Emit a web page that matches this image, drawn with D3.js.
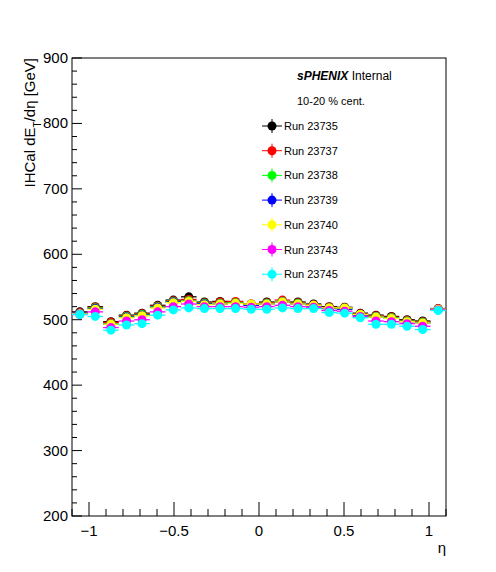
<!DOCTYPE html>
<html><head><meta charset="utf-8">
<script src="https://cdn.jsdelivr.net/npm/d3@7"></script>
<style>body{margin:0;background:#fff}text{font-family:"Liberation Sans",Arial,sans-serif}</style>
</head><body><div id="chart"></div>
<script>
// eta bin centres (24 bins over -1.1..1.1)
const etaCenters = [-1.054,-0.963,-0.871,-0.779,-0.688,-0.596,-0.504,-0.413,-0.321,-0.229,-0.138,-0.046,
  0.046,0.138,0.229,0.321,0.413,0.504,0.596,0.688,0.779,0.871,0.963,1.054];
const runs = ["Run 23735","Run 23737","Run 23738","Run 23739","Run 23740","Run 23743","Run 23745"];
const runColors = ["#000000","#ff0000","#00ff00","#0000ff","#ffff00","#ff00ff","#00ffff"];
const run23735 = [512,520,497,507,510,522,530,535,527,528,526,524,527,527,527,524,520,519,510,507,505,500,498,517];
const run23737 = [511,519,496,506,509,521,529,531,526,527,528,524,526,530,526,523,519,518,509,506,504,499,497,517];
const run23738 = [510,518,494,505,508,520,528,529,525,525,526,523,525,528,525,522,518,517,508,505,503,498,496,516];
const run23739 = [510,517,493,504,507,519,527,528,524,524,525,522,524,527,524,521,517,516,507,504,502,497,495,516];
const run23740 = [509,516,493,503,506,518,526,528,523,524,525,524,524,527,524,522,518,518,508,504,502,497,495,516];
const run23743 = [508,512,488,498,500,512,520,524,520,520,520,519,520,522,520,519,514,513,505,498,497,494,490,515];
const run23745 = [508,505,484,492,494,507,515,518,517,517,517,516,516,518,517,517,511,510,503,493,493,490,485,514];
const runValues = [run23735,run23737,run23738,run23739,run23740,run23743,run23745];
const yTicks = [200,300,400,500,600,700,800,900];
const xTicks = [-1,-0.5,0,0.5,1];

const W = 496, H = 572;
const m = {left: 72, right: 50, top: 58, bottom: 56};
const svg = d3.select("#chart").append("svg").attr("width", W).attr("height", H);
const x = d3.scaleLinear().domain([-1.1, 1.1]).range([m.left, W - m.right]);
const y = d3.scaleLinear().domain([200, 900]).range([H - m.bottom, m.top]);

// frame
svg.append("rect").attr("x", m.left).attr("y", m.top)
  .attr("width", x(1.1) - m.left).attr("height", y(200) - m.top)
  .attr("fill", "none").attr("stroke", "#000");

// y axis ticks
svg.append("g").selectAll("line").data(d3.range(200, 901, 20)).join("line")
  .attr("x1", m.left).attr("x2", d => m.left + (d % 100 === 0 ? 10 : 5))
  .attr("y1", d => y(d)).attr("y2", d => y(d)).attr("stroke", "#000");
svg.append("g").selectAll("text").data(yTicks).join("text")
  .attr("x", m.left - 4).attr("y", d => y(d) + 5).attr("text-anchor", "end")
  .attr("font-size", 15).text(d => d);

// x axis ticks
svg.append("g").selectAll("line").data(d3.range(-11, 12).map(d => d / 10)).join("line")
  .attr("x1", d => x(d)).attr("x2", d => x(d))
  .attr("y1", y(200)).attr("y2", d => y(200) - (Math.abs(Math.round(d * 10)) % 5 === 0 ? 14 : 7))
  .attr("stroke", "#000");
svg.append("g").selectAll("text").data(xTicks).join("text")
  .attr("x", d => x(d)).attr("y", y(200) + 20).attr("text-anchor", "middle")
  .attr("font-size", 15).text(d => d === 0 ? "0" : (d < 0 ? "\u2212" + Math.abs(d) : d));

// axis titles
svg.append("text").attr("x", x(1.1)).attr("y", 553).attr("text-anchor", "end")
  .attr("font-size", 15).text("\u03b7");
const yl = svg.append("text").attr("transform", "translate(35,58) rotate(-90)")
  .attr("text-anchor", "end").attr("font-size", 15);
yl.append("tspan").text("IHCal dE");
yl.append("tspan").attr("baseline-shift", "sub").attr("font-size", 10).text("T");
yl.append("tspan").text("/d\u03b7 [GeV]");

// data points with error bars
const hw = 1.1 / 24;
runValues.forEach((vals, i) => {
  const g = svg.append("g");
  vals.forEach((v, j) => {
    const cx = x(etaCenters[j]), cy = y(v);
    g.append("line").attr("x1", x(etaCenters[j] - hw)).attr("x2", x(etaCenters[j] + hw))
      .attr("y1", cy).attr("y2", cy).attr("stroke", runColors[i]).attr("stroke-width", 1.3);
    g.append("line").attr("x1", cx).attr("x2", cx).attr("y1", y(v - 5)).attr("y2", y(v + 5))
      .attr("stroke", runColors[i]).attr("stroke-width", 1.3);
    g.append("circle").attr("cx", cx).attr("cy", cy).attr("r", 4.5).attr("fill", runColors[i]);
  });
});

// header text
const t = svg.append("text").attr("x", 297).attr("y", 80).attr("font-size", 12);
t.append("tspan").attr("font-weight", "bold").attr("font-style", "italic").text("sPHENIX");
t.append("tspan").text(" Internal");
svg.append("text").attr("x", 297).attr("y", 105).attr("font-size", 11).text("10-20 % cent.");

// legend
runs.forEach((r, i) => {
  const ly = 126 + i * 24.7;
  svg.append("line").attr("x1", 262).attr("x2", 282).attr("y1", ly).attr("y2", ly).attr("stroke", runColors[i]);
  svg.append("line").attr("x1", 272).attr("x2", 272).attr("y1", ly - 7).attr("y2", ly + 7).attr("stroke", runColors[i]);
  svg.append("circle").attr("cx", 272).attr("cy", ly).attr("r", 4.5).attr("fill", runColors[i]);
  svg.append("text").attr("x", 284).attr("y", ly + 4).attr("font-size", 11).text(r);
});
</script></body></html>
